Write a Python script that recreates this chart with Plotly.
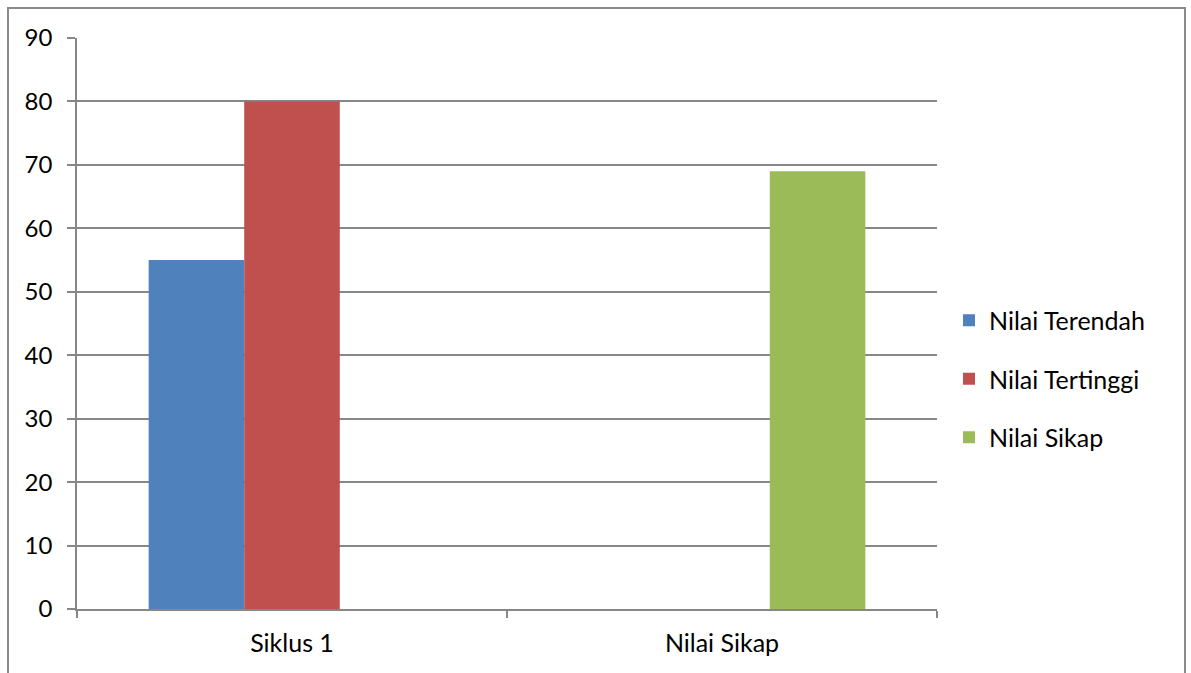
import plotly.graph_objects as go

# Chart data
categories = ["Siklus 1", "Nilai Sikap"]
nilai_terendah = [55, None]
nilai_tertinggi = [80, None]
nilai_sikap = [None, 69]

series_names = ["Nilai Terendah", "Nilai Tertinggi", "Nilai Sikap"]
series_values = [nilai_terendah, nilai_tertinggi, nilai_sikap]
series_colors = ["#4F81BD", "#C0504D", "#9BBB59"]

W, H = 1191, 673
ML, MR, MT, MB = 77, 254, 38, 64
PW = W - ML - MR
PH = H - MT - MB

FONT = "Lato, Carlito, Calibri, sans-serif"
FS = 24
GRID = "#878787"

fig = go.Figure()
for name, vals, color in zip(series_names, series_values, series_colors):
    fig.add_trace(go.Bar(
        x=categories, y=vals, name=name, legendgroup=name,
        marker=dict(color=color, line=dict(width=0)),
    ))


def px_x(px):
    return (px - ML) / PW


def px_y(py):
    return (H - MB - py) / PH


# outer chart frame
fig.add_shape(type="rect", xref="paper", yref="paper",
              x0=px_x(8), x1=px_x(1185), y0=px_y(690), y1=px_y(8),
              line=dict(color="#8a8a8a", width=2), fillcolor="rgba(0,0,0,0)",
              layer="below")

fig.update_layout(
    width=W, height=H,
    margin=dict(l=ML, r=MR, t=MT, b=MB, autoexpand=False),
    paper_bgcolor="white", plot_bgcolor="white",
    barmode="group", bargap=1.5 / 4.5, bargroupgap=0,
    font=dict(family=FONT, size=FS, color="#000000"),
    showlegend=True,
    legend=dict(
        x=px_x(949), xanchor="left", y=px_y(379), yanchor="middle",
        font=dict(family=FONT, size=25, color="#000000"),
        tracegroupgap=23, itemwidth=30, bgcolor="rgba(0,0,0,0)",
    ),
    xaxis=dict(
        type="category", tickson="boundaries", ticks="outside", ticklen=7,
        tickcolor=GRID, tickwidth=1.5, showline=True, linecolor=GRID,
        linewidth=1.5, showgrid=False, ticklabelstandoff=11,
        tickfont=dict(family=FONT, size=25),
    ),
    yaxis=dict(
        range=[0, 90], dtick=10, tick0=0, ticks="outside", ticklen=8,
        tickcolor=GRID, tickwidth=1.5, showline=True, linecolor=GRID,
        linewidth=1.5, showgrid=True, gridcolor=GRID, gridwidth=1.5,
        zeroline=False, ticklabelstandoff=10,
        tickfont=dict(family=FONT, size=FS),
    ),
)

fig.write_html("out.html")
